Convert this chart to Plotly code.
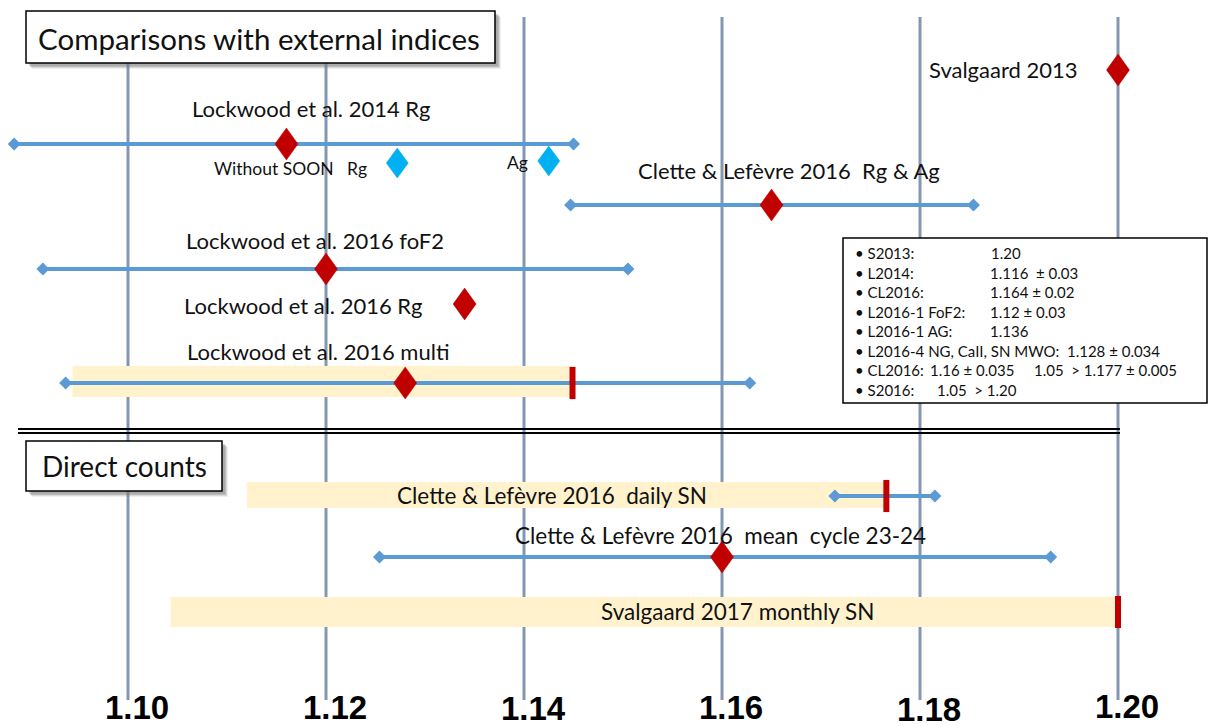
import plotly.graph_objects as go

# ---------------- data ----------------
tick_values = [1.10, 1.12, 1.14, 1.16, 1.18, 1.20]
tick_labels = ["1.10", "1.12", "1.14", "1.16", "1.18", "1.20"]

# comparisons with external indices
ext_labels = ["Svalgaard 2013", "Lockwood et al. 2014 Rg", "Clette & Lefèvre 2016  Rg & Ag",
              "Lockwood et al. 2016 foF2", "Lockwood et al. 2016 Rg", "Lockwood et al. 2016 multi"]
ext_center = [1.200, 1.116, 1.165, 1.120, 1.134, 1.128]
ext_low = [None, 1.0885, 1.1447, 1.0914, None, 1.0937]
ext_high = [None, 1.1450, 1.1854, 1.1505, None, 1.1628]

soon_labels = ["Without SOON   Rg", "Ag"]
soon_values = [1.1272, 1.1425]

multi_band = [1.0944, 1.1449]   # shaded range, ends at red marker
multi_mark = 1.1449

# direct counts
direct_labels = ["Clette & Lefèvre 2016  daily SN", "Clette & Lefèvre 2016  mean  cycle 23-24",
                 "Svalgaard 2017 monthly SN"]
direct_center = [None, 1.160, None]
direct_low = [1.1714, 1.1254, None]
direct_high = [1.1815, 1.1932, None]
direct_band_low = [1.1120, None, 1.1043]
direct_band_high = [1.1766, None, 1.2000]
direct_mark = [1.1766, None, 1.2000]

info_lines = [
    [("• S2013:", 853), ("1.20", 989)],
    [("• L2014:", 853), ("1.116  ± 0.03", 988)],
    [("• CL2016:", 853), ("1.164 ± 0.02", 988)],
    [("• L2016-1 FoF2:", 853), ("1.12 ± 0.03", 988)],
    [("• L2016-1 AG:", 853), ("1.136", 988)],
    [("• L2016-4 NG, CaII, SN MWO:  1.128 ± 0.034", 853)],
    [("• CL2016:", 853), ("1.16 ± 0.035", 928), ("1.05  > 1.177 ± 0.005", 1032)],
    [("• S2016:", 853), ("1.05  > 1.20", 935)],
]

# ---------------- styles / layout ----------------
W, H = 1208, 727
X0 = 1.08707
PXU = 9900.0           # pixels per unit of x
XMAX = X0 + W / PXU

RED = "#c00000"
BLUE = "#5b9bd5"
CYAN = "#00b0f0"
BAND = "#fff2cc"
GRID = "#8497b0"
FONT = "Lato, Open Sans, sans-serif"
TXT = "#111111"

ext_y = [70, 144, 205, 269, 304, 383]
ext_label_pos = [("right", 1080, 69), ("center", 311, 108), ("center", 789, 170),
                 ("center", 315, 240), ("right", 425, 305), ("center", 318, 351)]
soon_y = [163, 161]
soon_label_pos = [(290, 168), (517, 162)]
multi_band_y = (366, 397)

direct_y = [496, 557, 612]
direct_band_y = [(482, 508), None, (597, 627)]
direct_label_pos = [(552, 495), (720, 535), (737, 611)]

fig = go.Figure()

# shaded ranges (bars)
fig.add_trace(go.Bar(orientation="h", base=[multi_band[0]], x=[multi_band[1] - multi_band[0]],
                     y=[(multi_band_y[0] + multi_band_y[1]) / 2], width=[multi_band_y[1] - multi_band_y[0]],
                     marker=dict(color=BAND, line=dict(width=0)), hoverinfo="skip"))
for lo, hi, by in zip(direct_band_low, direct_band_high, direct_band_y):
    if lo is None:
        continue
    fig.add_trace(go.Bar(orientation="h", base=[lo], x=[hi - lo], y=[(by[0] + by[1]) / 2],
                         width=[by[1] - by[0]], marker=dict(color=BAND, line=dict(width=0)),
                         hoverinfo="skip"))

# range lines
def add_range(lo, hi, y):
    fig.add_trace(go.Scatter(x=[lo, hi], y=[y, y], mode="lines+markers",
                             line=dict(color=BLUE, width=4),
                             marker=dict(symbol="diamond", size=10, color=BLUE),
                             hoverinfo="skip"))

for lo, hi, y in zip(ext_low, ext_high, ext_y):
    if lo is not None:
        add_range(lo, hi, y)
for lo, hi, y in zip(direct_low, direct_high, direct_y):
    if lo is not None:
        add_range(lo, hi, y)

# red limit markers
mark_x = [multi_mark] + [m for m in direct_mark if m is not None]
mark_y = [ext_y[5]] + [y for m, y in zip(direct_mark, direct_y) if m is not None]
fig.add_trace(go.Scatter(x=mark_x, y=mark_y, mode="markers",
                         marker=dict(symbol="line-ns", size=23, color=RED,
                                     line=dict(color=RED, width=6)), hoverinfo="skip"))

# diamonds (tall rhombus drawn on the axes around each value)
def diamonds(values, rows, half_w_px, half_h_px):
    xs, ys = [], []
    dxu = half_w_px / PXU
    for v, r in zip(values, rows):
        xs += [v, v + dxu, v, v - dxu, v, None]
        ys += [r - half_h_px, r, r + half_h_px, r, r - half_h_px, None]
    return xs, ys

dx_vals = list(ext_center) + [c for c in direct_center if c is not None]
dy_rows = list(ext_y) + [y for c, y in zip(direct_center, direct_y) if c is not None]
rx, ry = diamonds(dx_vals, dy_rows, 11.5, 16)
fig.add_trace(go.Scatter(x=rx, y=ry, mode="lines", fill="toself", fillcolor=RED,
                         line=dict(color=RED, width=0.5), hoverinfo="skip"))
cx, cy = diamonds(soon_values, soon_y, 11, 15)
fig.add_trace(go.Scatter(x=cx, y=cy, mode="lines", fill="toself", fillcolor=CYAN,
                         line=dict(color=CYAN, width=0.5), hoverinfo="skip"))

shapes = []
# vertical grid lines
for t in tick_values:
    shapes.append(dict(type="line", xref="x", yref="y", x0=t, x1=t, y0=17, y1=700,
                       line=dict(color=GRID, width=3), layer="below"))

def px(p):
    return p / W

def box(x0, y0, x1, y1, shadow=True, lw=1.5):
    if shadow:
        for off, op in [(6, 0.12), (5, 0.2), (4, 0.3), (3, 0.3)]:
            shapes.append(dict(type="rect", xref="paper", yref="y", x0=px(x0 + off), x1=px(x1 + off),
                               y0=y0 + off, y1=y1 + off, fillcolor="#7f7f7f", opacity=op,
                               line=dict(width=0), layer="above"))
    shapes.append(dict(type="rect", xref="paper", yref="y", x0=px(x0), x1=px(x1), y0=y0, y1=y1,
                       fillcolor="white", line=dict(color="black", width=lw), layer="above"))

box(26, 11, 495, 63)
box(26, 441, 222, 491)
box(843, 238, 1207, 403, shadow=False, lw=1.5)

# double separator line
for yy in (429, 433):
    shapes.append(dict(type="line", xref="paper", yref="y", x0=px(18), x1=px(1120), y0=yy, y1=yy,
                       line=dict(color="black", width=2), layer="above"))

annotations = []
def text(t, x_px, y, size, anchor="center", family=FONT, color=TXT):
    annotations.append(dict(text=t, xref="paper", yref="y", x=px(x_px), y=y, xanchor=anchor,
                            yanchor="middle", showarrow=False,
                            font=dict(family=family, size=size, color=color)))

text("Comparisons with external indices", 259, 38, 29.5)
text("Direct counts", 124, 466, 28)

for lab, (anc, xp, yp) in zip(ext_labels, ext_label_pos):
    text(lab, xp, yp, 22, anchor=anc)
for lab, (xp, yp) in zip(soon_labels, soon_label_pos):
    text(lab.replace(" ", "\u00a0"), xp, yp, 17.5)
for lab, (xp, yp) in zip(direct_labels, direct_label_pos):
    text(lab.replace("  ", "\u00a0 "), xp, yp, 22.5)

info_y0, info_dy = 253, 19.5
for i, line in enumerate(info_lines):
    for seg, xp in line:
        text(seg.replace(" ", "\u00a0"), xp, info_y0 + i * info_dy, 15, anchor="left")

# axis tick labels (bold)
tick_y = [707, 707, 708, 707, 709, 706]
for tv, tl, ty in zip(tick_values, tick_labels, tick_y):
    annotations.append(dict(text="<b>" + tl + "</b>", xref="x", yref="y", x=tv, y=ty,
                            xanchor="center", yanchor="middle", showarrow=False, xshift=9,
                            font=dict(family="Liberation Sans, Arial, sans-serif",
                                      size=33, color="black")))

fig.update_layout(
    width=W, height=H,
    margin=dict(l=0, r=0, t=0, b=0),
    paper_bgcolor="white", plot_bgcolor="white",
    showlegend=False,
    barmode="overlay",
    xaxis=dict(range=[X0, XMAX], visible=False, showgrid=False, zeroline=False, fixedrange=True),
    yaxis=dict(range=[H, 0], visible=False, showgrid=False, zeroline=False, fixedrange=True),
    shapes=shapes,
    annotations=annotations,
)

fig.write_html("out.html", config={"displayModeBar": False},
               post_script="document.body.style.margin='0px';document.body.style.overflow='hidden';")
